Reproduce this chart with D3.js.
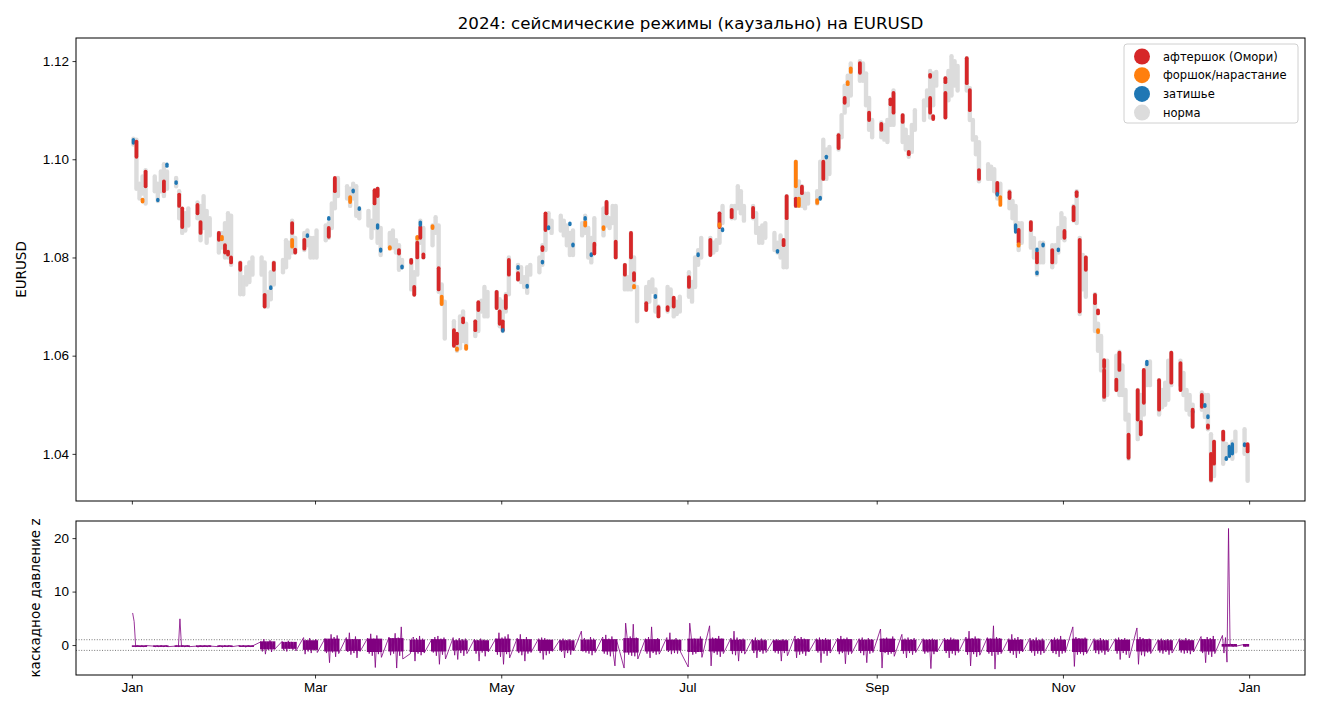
<!DOCTYPE html>
<html lang="ru">
<head>
<meta charset="utf-8">
<title>2024: сейсмические режимы на EURUSD</title>
<script src="https://cdn.jsdelivr.net/npm/d3@7"></script>
<style>
  body { margin: 0; background: #fff; }
  svg { display: block; font-family: "DejaVu Sans", sans-serif; }
  .axis text { font-size: 13.5px; fill: #000; }
  .axis line { stroke: #000; stroke-width: 0.8px; }
  .axis path { display: none; }
</style>
</head>
<body>
<script>
// --- data ---
// one [low, high] EURUSD band per trading day (Mon-Fri), 2024
var priceBands = [
  [1.1030,1.1042],[1.0940,1.1040],[1.0920,1.0950],[1.0930,1.0965],[1.0910,1.0978],
  [1.0935,1.0965],[1.0915,1.0950],[1.0935,1.0975],[1.0925,1.0990],[1.0940,1.0975],
  [1.0945,1.0962],[1.0880,1.0935],[1.0850,1.0890],[1.0855,1.0890],[1.0865,1.0900],
  [1.0880,1.0912],[1.0835,1.0905],[1.0860,1.0925],[1.0830,1.0895],[1.0845,1.0880],
  [1.0810,1.0850],[1.0820,1.0850],[1.0800,1.0870],[1.0800,1.0890],[1.0785,1.0885],
  [1.0725,1.0790],[1.0725,1.0760],[1.0745,1.0780],[1.0750,1.0790],[1.0765,1.0800],
  [1.0765,1.0800],[1.0700,1.0790],[1.0700,1.0730],[1.0715,1.0770],[1.0745,1.0790],
  [1.0770,1.0795],[1.0780,1.0835],[1.0800,1.0830],[1.0810,1.0875],[1.0810,1.0840],
  [1.0815,1.0850],[1.0825,1.0855],[1.0800,1.0840],[1.0800,1.0840],[1.0800,1.0855],
  [1.0835,1.0865],[1.0840,1.0870],[1.0860,1.0910],[1.0900,1.0960],[1.0925,1.0962],
  [1.0920,1.0945],[1.0905,1.0940],[1.0920,1.0950],[1.0885,1.0945],[1.0880,1.0900],
  [1.0865,1.0895],[1.0840,1.0875],[1.0860,1.0935],[1.0830,1.0940],[1.0805,1.0860],
  [1.0820,1.0850],[1.0820,1.0855],[1.0810,1.0835],[1.0775,1.0825],[1.0780,1.0795],
  [1.0735,1.0795],[1.0725,1.0770],[1.0765,1.0840],[1.0830,1.0875],[1.0800,1.0860],
  [1.0825,1.0865],[1.0850,1.0882],[1.0730,1.0865],[1.0705,1.0745],[1.0635,1.0710],
  [1.0620,1.0670],[1.0610,1.0640],[1.0615,1.0680],[1.0630,1.0690],[1.0615,1.0665],
  [1.0640,1.0670],[1.0650,1.0705],[1.0690,1.0712],[1.0680,1.0740],[1.0680,1.0730],
  [1.0697,1.0730],[1.0660,1.0715],[1.0650,1.0710],[1.0690,1.0725],[1.0725,1.0800],
  [1.0755,1.0785],[1.0750,1.0780],[1.0740,1.0760],[1.0728,1.0780],[1.0765,1.0785],
  [1.0770,1.0800],[1.0785,1.0825],[1.0815,1.0885],[1.0860,1.0890],[1.0850,1.0875],
  [1.0855,1.0885],[1.0845,1.0875],[1.0825,1.0865],[1.0805,1.0850],[1.0805,1.0855],
  [1.0845,1.0870],[1.0850,1.0885],[1.0800,1.0860],[1.0790,1.0840],[1.0825,1.0880],
  [1.0845,1.0900],[1.0865,1.0913],[1.0860,1.0880],[1.0870,1.0905],[1.0800,1.0905],
  [1.0735,1.0785],[1.0735,1.0760],[1.0735,1.0850],[1.0740,1.0800],[1.0670,1.0740],
  [1.0695,1.0740],[1.0710,1.0750],[1.0730,1.0755],[1.0690,1.0735],[1.0680,1.0700],
  [1.0690,1.0740],[1.0700,1.0735],[1.0680,1.0715],[1.0685,1.0710],[1.0690,1.0720],
  [1.0720,1.0770],[1.0710,1.0750],[1.0740,1.0800],[1.0785,1.0815],[1.0800,1.0840],
  [1.0805,1.0840],[1.0810,1.0830],[1.0815,1.0835],[1.0830,1.0890],[1.0870,1.0905],
  [1.0880,1.0905],[1.0880,1.0905],[1.0900,1.0945],[1.0890,1.0935],[1.0875,1.0905],
  [1.0880,1.0905],[1.0850,1.0890],[1.0830,1.0860],[1.0830,1.0865],[1.0840,1.0870],
  [1.0815,1.0850],[1.0810,1.0830],[1.0800,1.0845],[1.0780,1.0830],[1.0780,1.0925],
  [1.0905,1.0995],[1.0905,1.0955],[1.0905,1.0945],[1.0900,1.0930],[1.0910,1.0930],
  [1.0910,1.0935],[1.0920,1.0995],[1.0960,1.1040],[1.0960,1.1020],[1.0970,1.1025],
  [1.1020,1.1050],[1.1045,1.1090],[1.1095,1.1150],[1.1110,1.1170],[1.1130,1.1195],
  [1.1160,1.1200],[1.1160,1.1195],[1.1110,1.1175],[1.1060,1.1125],[1.1045,1.1080],
  [1.1045,1.1075],[1.1040,1.1070],[1.1035,1.1080],[1.1070,1.1120],[1.1070,1.1140],
  [1.1035,1.1090],[1.1020,1.1060],[1.1005,1.1045],[1.1015,1.1070],[1.1060,1.1100],
  [1.1080,1.1120],[1.1110,1.1140],[1.1085,1.1180],[1.1110,1.1175],[1.1150,1.1178],
  [1.1085,1.1165],[1.1120,1.1180],[1.1130,1.1210],[1.1150,1.1200],[1.1140,1.1190],
  [1.1140,1.1206],[1.1080,1.1145],[1.1040,1.1080],[1.1010,1.1045],[1.0955,1.1035],
  [1.0960,1.0990],[1.0960,1.0985],[1.0935,1.0980],[1.0920,1.0952],[1.0925,1.0950],
  [1.0900,1.0935],[1.0880,1.0915],[1.0860,1.0905],[1.0815,1.0870],[1.0830,1.0870],
  [1.0820,1.0872],[1.0800,1.0840],[1.0765,1.0805],[1.0790,1.0830],[1.0790,1.0830],
  [1.0780,1.0825],[1.0790,1.0825],[1.0810,1.0860],[1.0840,1.0890],[1.0835,1.0880],
  [1.0875,1.0905],[1.0870,1.0935],[1.0685,1.0840],[1.0735,1.0805],[1.0720,1.0800],
  [1.0650,1.0725],[1.0610,1.0665],[1.0570,1.0640],[1.0510,1.0585],[1.0520,1.0590],
  [1.0530,1.0600],[1.0520,1.0608],[1.0520,1.0580],[1.0470,1.0530],[1.0390,1.0480],
  [1.0430,1.0530],[1.0440,1.0520],[1.0480,1.0570],[1.0540,1.0585],[1.0540,1.0588],
  [1.0480,1.0550],[1.0495,1.0530],[1.0500,1.0545],[1.0510,1.0590],[1.0540,1.0606],
  [1.0540,1.0590],[1.0520,1.0565],[1.0490,1.0530],[1.0480,1.0520],[1.0455,1.0500],
  [1.0490,1.0525],[1.0475,1.0520],[1.0450,1.0520],[1.0345,1.0440],[1.0355,1.0425],
  [1.0380,1.0445],[1.0390,1.0420],[1.0395,1.0415],[1.0390,1.0425],[1.0405,1.0445],
  [1.0400,1.0450],[1.0345,1.0415]
];

// coloured regime episodes: [date, low, high, regime]
var regimeEvents = [
  ["2024-01-01",1.1033,1.1040,"z"],["2024-01-02",1.1005,1.1036,"a"],["2024-01-04",1.0914,1.0918,"f"],
  ["2024-01-05",1.0945,1.0975,"a"],["2024-01-09",1.0916,1.0918,"z"],["2024-01-11",1.0935,1.0955,"a"],
  ["2024-01-12",1.0986,1.0990,"z"],["2024-01-15",1.0951,1.0954,"z"],["2024-01-16",1.0905,1.0928,"a"],
  ["2024-01-17",1.0862,1.0900,"a"],["2024-01-22",1.0890,1.0907,"a"],["2024-01-23",1.0850,1.0872,"a"],
  ["2024-01-29",1.0836,1.0850,"a"],["2024-01-30",1.0837,1.0842,"f"],["2024-01-31",1.0810,1.0825,"a"],
  ["2024-02-01",1.0806,1.0812,"a"],["2024-02-02",1.0790,1.0800,"a"],["2024-02-05",1.0775,1.0789,"a"],
  ["2024-02-13",1.0700,1.0724,"a"],["2024-02-15",1.0737,1.0740,"z"],["2024-02-16",1.0775,1.0789,"a"],
  ["2024-02-22",1.0850,1.0870,"a"],["2024-02-22",1.0822,1.0836,"f"],["2024-02-23",1.0810,1.0816,"a"],
  ["2024-02-26",1.0818,1.0836,"a"],["2024-02-27",1.0843,1.0846,"z"],["2024-03-05",1.0842,1.0860,"a"],
  ["2024-03-05",1.0878,1.0881,"z"],["2024-03-07",1.0935,1.0962,"a"],["2024-03-12",1.0913,1.0923,"f"],
  ["2024-03-13",1.0934,1.0937,"z"],["2024-03-15",1.0898,1.0901,"z"],["2024-03-20",1.0910,1.0937,"a"],
  ["2024-03-21",1.0925,1.0940,"a"],["2024-03-21",1.0860,1.0866,"z"],["2024-03-22",1.0813,1.0817,"z"],
  ["2024-03-25",1.0818,1.0821,"f"],["2024-03-28",1.0808,1.0815,"a"],["2024-03-29",1.0779,1.0782,"z"],
  ["2024-04-01",1.0789,1.0795,"a"],["2024-04-02",1.0724,1.0740,"a"],["2024-04-03",1.0800,1.0830,"a"],
  ["2024-04-03",1.0838,1.0842,"f"],["2024-04-04",1.0840,1.0862,"a"],["2024-04-04",1.0866,1.0872,"z"],
  ["2024-04-05",1.0800,1.0806,"a"],["2024-04-08",1.0860,1.0864,"f"],["2024-04-10",1.0735,1.0778,"a"],
  ["2024-04-11",1.0705,1.0720,"f"],["2024-04-15",1.0620,1.0652,"a"],["2024-04-16",1.0612,1.0615,"f"],
  ["2024-04-16",1.0625,1.0645,"a"],["2024-04-18",1.0668,1.0676,"a"],["2024-04-19",1.0614,1.0620,"f"],
  ["2024-04-22",1.0652,1.0670,"a"],["2024-04-23",1.0693,1.0709,"a"],["2024-04-29",1.0697,1.0730,"a"],
  ["2024-04-30",1.0665,1.0690,"a"],["2024-05-01",1.0652,1.0670,"a"],["2024-05-01",1.0650,1.0653,"z"],
  ["2024-05-02",1.0697,1.0722,"a"],["2024-05-03",1.0765,1.0795,"a"],["2024-05-06",1.0755,1.0768,"a"],
  ["2024-05-06",1.0778,1.0781,"z"],["2024-05-09",1.0740,1.0743,"z"],["2024-05-14",1.0789,1.0792,"z"],
  ["2024-05-14",1.0815,1.0821,"a"],["2024-05-15",1.0856,1.0890,"a"],["2024-05-16",1.0859,1.0862,"z"],
  ["2024-05-23",1.0867,1.0870,"z"],["2024-05-24",1.0824,1.0827,"z"],["2024-05-28",1.0865,1.0872,"f"],
  ["2024-05-28",1.0878,1.0881,"z"],["2024-05-30",1.0804,1.0807,"z"],["2024-05-31",1.0808,1.0828,"a"],
  ["2024-06-03",1.0858,1.0862,"f"],["2024-06-04",1.0890,1.0913,"a"],["2024-06-07",1.0800,1.0832,"a"],
  ["2024-06-10",1.0765,1.0785,"a"],["2024-06-12",1.0800,1.0850,"a"],["2024-06-13",1.0754,1.0768,"a"],
  ["2024-06-13",1.0739,1.0742,"f"],["2024-06-17",1.0693,1.0707,"a"],["2024-06-20",1.0719,1.0722,"z"],
  ["2024-06-21",1.0680,1.0699,"a"],["2024-06-24",1.0693,1.0699,"a"],["2024-06-26",1.0700,1.0718,"a"],
  ["2024-07-01",1.0740,1.0760,"a"],["2024-07-04",1.0804,1.0807,"z"],["2024-07-08",1.0805,1.0836,"a"],
  ["2024-07-11",1.0862,1.0890,"a"],["2024-07-11",1.0864,1.0868,"f"],["2024-07-12",1.0855,1.0858,"z"],
  ["2024-07-15",1.0882,1.0897,"a"],["2024-07-22",1.0882,1.0901,"a"],["2024-07-30",1.0811,1.0814,"z"],
  ["2024-08-01",1.0825,1.0836,"a"],["2024-08-02",1.0880,1.0925,"a"],["2024-08-05",1.0945,1.0995,"f"],
  ["2024-08-05",1.0905,1.0920,"a"],["2024-08-06",1.0905,1.0920,"f"],["2024-08-07",1.0931,1.0944,"a"],
  ["2024-08-12",1.0911,1.0917,"f"],["2024-08-13",1.0919,1.0922,"z"],["2024-08-14",1.0960,1.0995,"a"],
  ["2024-08-15",1.1003,1.1006,"z"],["2024-08-19",1.1023,1.1049,"a"],["2024-08-21",1.1115,1.1125,"a"],
  ["2024-08-22",1.1153,1.1157,"f"],["2024-08-23",1.1178,1.1185,"f"],["2024-08-26",1.1176,1.1196,"a"],
  ["2024-08-29",1.1080,1.1095,"a"],["2024-09-02",1.1060,1.1072,"a"],["2024-09-05",1.1112,1.1122,"a"],
  ["2024-09-06",1.1095,1.1135,"a"],["2024-09-09",1.1076,1.1090,"a"],["2024-09-11",1.1010,1.1015,"a"],
  ["2024-09-18",1.1095,1.1125,"a"],["2024-09-18",1.1168,1.1172,"a"],["2024-09-19",1.1082,1.1088,"a"],
  ["2024-09-23",1.1085,1.1135,"a"],["2024-09-23",1.1157,1.1165,"a"],["2024-09-30",1.1155,1.1206,"a"],
  ["2024-10-01",1.1100,1.1141,"a"],["2024-10-04",1.0960,1.0978,"a"],["2024-10-10",1.0930,1.0952,"a"],
  ["2024-10-10",1.0927,1.0930,"z"],["2024-10-11",1.0907,1.0923,"f"],["2024-10-14",1.0921,1.0933,"a"],
  ["2024-10-16",1.0852,1.0866,"z"],["2024-10-17",1.0830,1.0856,"a"],["2024-10-17",1.0824,1.0827,"f"],
  ["2024-10-21",1.0856,1.0872,"a"],["2024-10-23",1.0790,1.0810,"a"],["2024-10-23",1.0814,1.0817,"z"],
  ["2024-10-23",1.0767,1.0770,"z"],["2024-10-25",1.0824,1.0827,"z"],["2024-10-28",1.0790,1.0815,"a"],
  ["2024-10-30",1.0814,1.0817,"z"],["2024-11-01",1.0840,1.0854,"a"],["2024-11-04",1.0876,1.0903,"a"],
  ["2024-11-05",1.0925,1.0933,"a"],["2024-11-06",1.0690,1.0836,"a"],["2024-11-08",1.0775,1.0800,"a"],
  ["2024-11-11",1.0707,1.0724,"a"],["2024-11-12",1.0686,1.0692,"a"],["2024-11-12",1.0648,1.0652,"f"],
  ["2024-11-14",1.0577,1.0591,"a"],["2024-11-14",1.0516,1.0571,"a"],["2024-11-18",1.0530,1.0551,"a"],
  ["2024-11-19",1.0571,1.0606,"a"],["2024-11-22",1.0392,1.0439,"a"],["2024-11-25",1.0470,1.0530,"a"],
  ["2024-11-26",1.0440,1.0465,"a"],["2024-11-27",1.0504,1.0571,"a"],["2024-11-28",1.0582,1.0588,"z"],
  ["2024-12-02",1.0490,1.0550,"a"],["2024-12-06",1.0545,1.0606,"a"],["2024-12-09",1.0530,1.0585,"a"],
  ["2024-12-13",1.0484,1.0487,"z"],["2024-12-13",1.0455,1.0490,"a"],["2024-12-16",1.0496,1.0520,"a"],
  ["2024-12-17",1.0497,1.0500,"z"],["2024-12-18",1.0474,1.0477,"z"],["2024-12-18",1.0453,1.0458,"a"],
  ["2024-12-19",1.0347,1.0400,"a"],["2024-12-20",1.0380,1.0425,"a"],["2024-12-23",1.0429,1.0445,"a"],
  ["2024-12-24",1.0389,1.0392,"z"],["2024-12-25",1.0395,1.0415,"z"],["2024-12-26",1.0400,1.0420,"z"],
  ["2024-12-30",1.0417,1.0420,"z"],["2024-12-31",1.0405,1.0420,"a"]
];

// cascade pressure z: [first half, second half] of each trading day
var zBands = [
  [6.0,4.4],[-0.3,-0.1],[-0.2,-0.3],[-0.1,-0.3],[-0.2,-0.1],
  [-0.2,-0.3],[-0.1,-0.3],[-0.2,-0.1],[-0.3,-0.2],[-0.1,-0.3],
  [-0.2,-0.1],[-0.3,4.9],[-0.2,-0.1],[-0.3,-0.2],[-0.1,-0.3],
  [-0.2,-0.4],[-0.1,-0.2],[-0.3,-0.1],[-0.2,-0.3],[-0.1,-0.2],
  [-0.3,-0.1],[-0.2,-0.4],[-0.1,-0.2],[-0.3,-0.1],[-0.2,-0.3],
  [-0.1,-0.3],[-0.2,-0.1],[-0.4,-0.2],[-0.1,-0.3],[-0.2,-0.1],
  [0.6,-1.2],[1.1,-1.7],[0.4,-0.9],[0.9,-1.3],[0.3,-0.8],
  [0.7,-1.0],[0.5,-1.2],[0.8,-0.7],[0.6,-0.9],[0.4,-1.1],
  [1.4,-1.7],[0.9,-1.2],[1.3,-1.5],[0.7,-1.0],[1.1,-1.4],
  [1.2,-1.5],[0.9,-3.3],[2.0,-1.4],[1.5,-2.2],[1.8,-1.6],
  [1.4,-1.3],[2.3,-1.8],[1.1,-1.5],[1.6,-2.4],[0.9,-1.2],
  [1.3,-1.6],[2.1,-2.0],[1.2,-4.2],[1.8,-1.7],[1.0,-2.3],
  [1.5,-1.9],[1.2,-1.6],[2.2,-4.3],[1.4,-2.0],[3.4,-2.6],
  [-1.6,1.2],[1.5,-3.0],[1.3,-1.6],[1.7,-1.9],[1.2,-1.5],
  [1.1,-1.4],[1.5,-2.0],[1.7,-3.6],[1.2,-1.8],[1.4,-2.6],
  [1.4,-1.9],[1.0,-2.7],[1.3,-1.5],[1.1,-2.0],[1.2,-1.6],
  [1.1,-1.6],[0.9,-3.0],[1.2,-1.4],[1.0,-2.1],[0.8,-1.3],
  [1.2,-1.8],[2.3,-2.2],[1.4,-3.6],[1.6,-1.7],[2.0,-2.4],
  [1.3,-1.5],[2.0,-1.9],[1.1,-3.0],[1.5,-1.6],[0.9,-1.4],
  [1.2,-1.5],[1.4,-2.7],[1.3,-1.9],[1.0,-1.6],[0.8,-1.2],
  [1.0,-1.3],[1.2,-2.4],[0.9,-1.5],[1.1,-1.8],[0.7,-1.1],
  [2.6,-1.2],[1.3,-1.4],[1.0,-1.6],[1.5,-1.9],[1.2,-1.4],
  [1.5,-1.6],[1.9,-1.8],[1.2,-2.1],[1.6,-1.7],[-3.9,1.0],
  [-4.3,4.1],[1.3,-1.8],[1.6,-2.0],[3.9,-2.1],[1.4,-2.6],
  [1.2,-1.6],[1.5,-2.4],[3.4,-1.5],[1.1,-1.8],[1.3,-1.7],
  [1.4,-1.3],[2.3,-1.7],[1.0,-1.5],[1.3,-1.6],[0.9,-1.3],
  [-4.1,4.1],[1.5,-1.8],[1.2,-1.6],[0.8,-1.0],[1.6,-2.3],
  [3.6,-3.9],[1.4,-1.5],[1.3,-1.8],[1.7,-2.2],[1.2,-1.6],
  [1.3,-1.7],[2.6,-1.9],[1.4,-3.0],[1.1,-1.5],[1.2,-1.7],
  [1.1,-1.5],[1.4,-2.4],[0.9,-1.3],[1.2,-1.6],[1.0,-1.4],
  [1.0,-1.4],[1.1,-1.6],[0.9,-3.0],[1.1,-1.5],[1.0,-2.0],
  [1.7,-2.4],[1.3,-1.8],[1.5,-1.6],[1.2,-2.0],[0.9,-1.3],
  [1.2,-1.4],[1.4,-3.3],[1.1,-1.6],[1.3,-2.0],[1.0,-1.5],
  [1.3,-1.7],[1.7,-1.5],[1.2,-3.5],[1.4,-1.8],[1.1,-1.6],
  [1.2,-1.5],[1.4,-1.9],[1.0,-3.3],[1.3,-1.6],[1.1,-1.4],
  [3.0,-4.3],[1.2,-1.5],[1.4,-1.8],[1.1,-1.6],[1.6,-2.1],
  [2.0,-1.6],[1.2,-2.4],[1.4,-1.5],[1.1,-1.8],[1.3,-1.4],
  [1.2,-1.6],[1.0,-1.4],[1.1,-4.4],[1.2,-1.7],[0.9,-1.3],
  [1.3,-1.5],[1.1,-2.4],[1.4,-1.6],[1.2,-1.9],[1.0,-1.4],
  [1.5,-1.8],[2.6,-3.9],[1.3,-1.7],[1.6,-2.2],[1.2,-1.9],
  [1.4,-1.6],[1.2,-2.0],[3.6,-4.5],[1.5,-1.8],[1.3,-1.6],
  [1.2,-1.5],[2.0,-1.8],[1.3,-2.4],[1.5,-1.6],[1.1,-1.3],
  [1.3,-1.4],[1.1,-2.0],[1.4,-1.6],[1.0,-1.8],[1.2,-1.5],
  [1.1,-1.5],[1.4,-1.7],[1.2,-2.2],[1.7,-1.6],[1.0,-1.4],
  [3.4,-4.0],[1.5,-1.8],[1.3,-1.6],[1.2,-1.9],[1.4,-1.6],
  [1.2,-1.5],[1.0,-1.7],[1.3,-1.4],[1.1,-1.8],[0.9,-1.3],
  [1.2,-1.6],[1.4,-2.7],[1.1,-1.5],[1.3,-1.8],[1.0,-2.4],
  [3.2,-3.6],[1.5,-1.9],[1.3,-2.1],[1.1,-1.4],[1.2,-1.6],
  [1.0,-1.4],[1.2,-1.6],[0.9,-1.3],[1.1,-1.8],[1.0,-1.5],
  [1.2,-1.4],[1.0,-1.6],[1.3,-1.5],[1.1,-1.7],[0.9,-1.3],
  [1.6,-1.5],[1.1,-3.3],[1.5,-1.8],[1.3,-2.2],[1.7,-1.6],
  [1.8,-1.5],[1.4,-3.2],[21.8,0.2],[0.1,-0.3],[0.0,-0.2],
  [0.1,-0.3],[0.2,-0.1]
];

// dense core of the z oscillation per week: [low, high]
var zCoreWeekly = [
  [-0.35,-0.05],[-0.35,-0.05],[-0.35,-0.05],[-0.35,-0.05],[-0.35,-0.05],[-0.35,-0.05],
  [-0.8,0.7],[-0.7,0.6],[-0.9,0.9],[-1.2,1.2],[-1.1,1.1],[-1.3,1.2],[-1.2,1.3],
  [-1.3,1.0],[-1.2,1.1],[-1.0,0.9],[-1.1,0.9],[-1.3,1.2],[-1.2,1.1],[-1.1,1.0],
  [-1.0,0.9],[-1.1,1.0],[-1.2,1.1],[-1.4,1.3],[-1.2,1.1],[-1.0,1.0],[-1.3,1.2],
  [-1.2,1.2],[-1.1,1.0],[-1.0,0.9],[-1.1,0.9],[-1.2,1.1],[-1.1,1.0],[-1.2,1.1],
  [-1.1,1.0],[-1.3,1.2],[-1.1,1.0],[-1.2,1.0],[-1.1,1.0],[-1.3,1.2],[-1.3,1.2],
  [-1.1,1.0],[-1.1,0.9],[-1.1,1.0],[-1.3,1.2],[-1.0,0.9],[-1.1,1.0],[-1.2,1.1],
  [-1.0,0.9],[-1.0,0.9],[-1.2,1.1],[-0.3,0.2],[-0.3,0.2]
];

var regimes = [
  { key: "a", label: "афтершок (Омори)", color: "#d62728" },
  { key: "f", label: "форшок/нарастание", color: "#ff7f0e" },
  { key: "z", label: "затишье", color: "#1f77b4" },
  { key: "n", label: "норма", color: "#dcdcdc" }
];
var priceTicks = [1.04, 1.06, 1.08, 1.10, 1.12];
var zTicks = [0, 10, 20];
var zThresholds = [-1, 1];

// --- layout ---
var width = 1320, height = 715;
var left = 76, right = 1305;
var top1 = 38, bottom1 = 501, top2 = 521, bottom2 = 675;

var days = d3.utcDay.range(new Date(Date.UTC(2024, 0, 1)), new Date(Date.UTC(2025, 0, 1)))
  .filter(function(d) { return d.getUTCDay() % 6 !== 0; });
function at(d, h) { return d3.utcHour.offset(d, h); }
var colorOf = {};
regimes.forEach(function(r) { colorOf[r.key] = r.color; });

var svg = d3.select("body").append("svg")
  .attr("width", width).attr("height", height);

// x domain padded 5% like matplotlib
var x0 = days[0], x1 = d3.utcDay.offset(days[days.length - 1], 1);
var pad = (x1 - x0) * 0.05;
var x = d3.scaleUtc().domain([new Date(+x0 - pad), new Date(+x1 + pad)]).range([left, right]);
var y = d3.scaleLinear().domain([1.0304, 1.1247]).range([bottom1, top1]);
var yz = d3.scaleLinear().domain([-5.6, 23.2]).range([bottom2, top2]);

svg.append("text")
  .attr("x", (left + right) / 2).attr("y", 29)
  .attr("text-anchor", "middle").attr("font-size", "16.7px")
  .text("2024: сейсмические режимы (каузально) на EURUSD");

// top panel: normal regime bands
var main = svg.append("g");
main.selectAll("line.norm")
  .data(priceBands)
  .join("line")
  .attr("class", "norm")
  .attr("x1", function(d, i) { return x(at(days[i], 12)); })
  .attr("x2", function(d, i) { return x(at(days[i], 12)); })
  .attr("y1", function(d) { return y(d[0]); })
  .attr("y2", function(d) { return y(d[1]); })
  .attr("stroke", colorOf.n).attr("stroke-width", 4.4).attr("stroke-linecap", "round");

// coloured regime episodes on top
var parse = d3.utcParse("%Y-%m-%d");
main.selectAll("line.ev")
  .data(regimeEvents)
  .join("line")
  .attr("class", "ev")
  .attr("x1", function(d) { return x(at(parse(d[0]), 12)); })
  .attr("x2", function(d) { return x(at(parse(d[0]), 12)); })
  .attr("y1", function(d) { return y(d[1]); })
  .attr("y2", function(d) { return y(d[2]); })
  .attr("stroke", function(d) { return colorOf[d[3]]; })
  .attr("stroke-width", function(d) { return d[3] === "z" ? 3.4 : 3.8; })
  .attr("stroke-linecap", "round");

svg.append("rect")
  .attr("x", left).attr("y", top1).attr("width", right - left).attr("height", bottom1 - top1)
  .attr("fill", "none").attr("stroke", "#000").attr("stroke-width", 1);

svg.append("g").attr("class", "axis")
  .attr("transform", "translate(" + left + ",0)")
  .call(d3.axisLeft(y).tickValues(priceTicks).tickFormat(d3.format(".2f")).tickSize(3.5).tickPadding(3.5));
svg.append("g").attr("class", "axis")
  .attr("transform", "translate(0," + bottom1 + ")")
  .call(d3.axisBottom(x).ticks(d3.utcMonth.every(2)).tickFormat("").tickSize(3.5));

svg.append("text")
  .attr("transform", "translate(26," + (top1 + bottom1) / 2 + ") rotate(-90)")
  .attr("text-anchor", "middle").attr("font-size", "13.5px")
  .text("EURUSD");

// legend
var lg = svg.append("g").attr("transform", "translate(1124,44)");
lg.append("rect").attr("width", 174).attr("height", 79).attr("rx", 3)
  .attr("fill", "#fff").attr("fill-opacity", 0.8).attr("stroke", "#d0d0d0");
var item = lg.selectAll("g.item").data(regimes).join("g")
  .attr("transform", function(d, i) { return "translate(0," + (12.5 + i * 18.7) + ")"; });
item.append("circle").attr("cx", 18).attr("r", 8).attr("fill", function(d) { return d.color; });
item.append("text").attr("x", 39).attr("y", 4).attr("font-size", "11.5px")
  .text(function(d) { return d.label; });

// bottom panel: cascade pressure
var zPts = [];
zBands.forEach(function(b, i) {
  zPts.push([at(days[i], 6), b[0]]);
  zPts.push([at(days[i], 18), b[1]]);
});
var bot = svg.append("g");
bot.selectAll("line.thr")
  .data(zThresholds)
  .join("line")
  .attr("x1", left).attr("x2", right)
  .attr("y1", function(d) { return yz(d); }).attr("y2", function(d) { return yz(d); })
  .attr("stroke", "#555").attr("stroke-width", 0.8).attr("stroke-dasharray", "1,1.6");
bot.selectAll("line.core")
  .data(days)
  .join("line")
  .attr("class", "core")
  .attr("x1", function(d) { return x(at(d, 12)); })
  .attr("x2", function(d) { return x(at(d, 12)); })
  .attr("y1", function(d, i) { return yz(zCoreWeekly[Math.floor(i / 5)][0]); })
  .attr("y2", function(d, i) { return yz(zCoreWeekly[Math.floor(i / 5)][1]); })
  .attr("stroke", "#800080").attr("stroke-width", 3.1);
bot.append("path")
  .datum(zPts)
  .attr("d", d3.line().x(function(d) { return x(d[0]); }).y(function(d) { return yz(d[1]); }))
  .attr("fill", "none").attr("stroke", "#800080").attr("stroke-width", 0.8);

svg.append("rect")
  .attr("x", left).attr("y", top2).attr("width", right - left).attr("height", bottom2 - top2)
  .attr("fill", "none").attr("stroke", "#000").attr("stroke-width", 1);

svg.append("g").attr("class", "axis")
  .attr("transform", "translate(" + left + ",0)")
  .call(d3.axisLeft(yz).tickValues(zTicks).tickSize(3.5).tickPadding(3.5));
svg.append("g").attr("class", "axis")
  .attr("transform", "translate(0," + bottom2 + ")")
  .call(d3.axisBottom(x).ticks(d3.utcMonth.every(2)).tickFormat(d3.utcFormat("%b")).tickSize(3.5).tickPadding(3.5));

svg.append("text")
  .attr("transform", "translate(40," + (top2 + bottom2) / 2 + ") rotate(-90)")
  .attr("text-anchor", "middle").attr("font-size", "13.5px")
  .text("каскадное давление z");
</script>
</body>
</html>
